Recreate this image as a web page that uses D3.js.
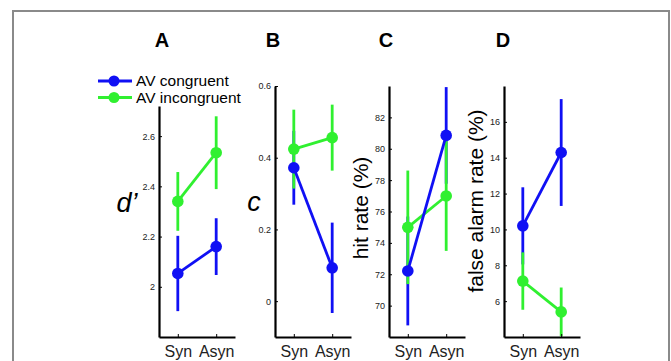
<!DOCTYPE html>
<html lang="en">
<head>
<meta charset="utf-8">
<title>AV congruence panels</title>
<script src="https://cdn.jsdelivr.net/npm/d3@7"></script>
<style>
  body { margin: 0; background: #fff; }
  svg { font-family: Arial, "Liberation Sans", Helvetica, sans-serif; }
  .tick text { fill: #222; }
</style>
</head>
<body>
<script>
// conditions on the x axis
var conditions = ["Syn", "Asyn"];
var seriesNames = ["AV congruent", "AV incongruent"];

// A: d'
var dCongMean = [2.053, 2.16],  dCongErr = [0.15, 0.113];
var dIncMean  = [2.34, 2.534],  dIncErr  = [0.117, 0.145];
// B: criterion c
var cCongMean = [0.372, 0.093], cCongErr = [0.103, 0.126];
var cIncMean  = [0.424, 0.456], cIncErr  = [0.11, 0.092];
// C: hit rate (%)
var hitCongMean = [72.21, 80.85], hitCongErr = [3.47, 3.08];
var hitIncMean  = [74.99, 76.99], hitIncErr  = [3.62, 3.5];
// D: false alarm rate (%)
var faCongMean = [10.2, 14.29], faCongErr = [2.15, 2.98];
var faIncMean  = [7.12, 5.4],   faIncErr  = [1.6, 1.36];

// tick labels
var dTicks = [2, 2.2, 2.4, 2.6];
var cTicks = [0, 0.2, 0.4, 0.6];
var hitTicks = [70, 72, 74, 76, 78, 80, 82];
var faTicks = [6, 8, 10, 12, 14, 16];

var blue = "#1010f4", green = "#30f030";
var w = 671, h = 361;

var svg = d3.select("body").append("svg").attr("width", w).attr("height", h);

// grey frame of the figure
svg.append("rect").attr("x", 13).attr("y", 11).attr("width", 656).attr("height", 400)
  .attr("fill", "none").attr("stroke", "#8a8a8a").attr("stroke-width", 2);

var panels = [
  {letter: "A", left: 159, top: 106, domain: [1.8, 2.72], ticks: dTicks, fmt: d3.format("~g"),
   cong: dCongMean, congErr: dCongErr, inc: dIncMean, incErr: dIncErr,
   label: "d\u2019", italic: true, lx: 127, ly: 212, titleX: 162},
  {letter: "B", left: 275, top: 86, domain: [-0.1, 0.6], ticks: cTicks, fmt: d3.format("~g"),
   cong: cCongMean, congErr: cCongErr, inc: cIncMean, incErr: cIncErr,
   label: "c", italic: true, lx: 254, ly: 211, titleX: 273},
  {letter: "C", left: 389, top: 86, domain: [68, 84], ticks: hitTicks, fmt: d3.format("d"),
   cong: hitCongMean, congErr: hitCongErr, inc: hitIncMean, incErr: hitIncErr,
   label: "hit rate (%)", italic: false, lx: 368, ly: 208, titleX: 386},
  {letter: "D", left: 504, top: 86, domain: [4, 18], ticks: faTicks, fmt: d3.format("d"),
   cong: faCongMean, congErr: faCongErr, inc: faIncMean, incErr: faIncErr,
   label: "false alarm rate (%)", italic: false, lx: 483, ly: 201, titleX: 503}
];

var bottom = 337, axisW = 76;

panels.forEach(function(p) {
  var g = svg.append("g").attr("transform", "translate(" + p.left + ",0)");

  var x = d3.scalePoint().domain(conditions).range([0, axisW]).padding(0.49);
  var y = d3.scaleLinear().domain(p.domain).range([bottom, p.top]);

  var series = [
    {color: blue, mean: p.cong, err: p.congErr},
    {color: green, mean: p.inc, err: p.incErr}
  ];

  // error bars first (blue, then green over it)
  series.forEach(function(s) {
    g.selectAll(null).data(conditions).enter().append("line")
      .attr("x1", function(d) { return x(d); })
      .attr("x2", function(d) { return x(d); })
      .attr("y1", function(d, i) { return y(Math.max(p.domain[0], s.mean[i] - s.err[i])); })
      .attr("y2", function(d, i) { return y(Math.min(p.domain[1], s.mean[i] + s.err[i])); })
      .attr("stroke", s.color).attr("stroke-width", 2.8);
  });

  // lines and markers: green first, blue on top
  [series[1], series[0]].forEach(function(s) {
    var line = d3.line()
      .x(function(d, i) { return x(conditions[i]); })
      .y(function(d) { return y(d); });
    g.append("path").datum(s.mean).attr("d", line)
      .attr("fill", "none").attr("stroke", s.color).attr("stroke-width", 2.8);
    g.selectAll(null).data(s.mean).enter().append("circle")
      .attr("cx", function(d, i) { return x(conditions[i]); })
      .attr("cy", function(d) { return y(d); })
      .attr("r", 5.8).attr("fill", s.color);
  });

  // y axis, ticks pointing inward
  var yAxis = d3.axisLeft(y).tickValues(p.ticks).tickFormat(p.fmt)
    .tickSizeInner(-3).tickSizeOuter(0).tickPadding(4);
  var ya = g.append("g").call(yAxis);
  ya.select(".domain").attr("stroke-width", 2.2);
  ya.selectAll(".tick line").attr("stroke-width", 1);
  ya.selectAll(".tick text").attr("font-size", 9);

  // x axis
  var xAxis = d3.axisBottom(x).tickSizeInner(-3).tickSizeOuter(0).tickPadding(8.5);
  var xa = g.append("g").attr("transform", "translate(0," + bottom + ")").call(xAxis);
  xa.select(".domain").attr("stroke-width", 2.2);
  xa.selectAll(".tick line").attr("stroke-width", 1);
  xa.selectAll(".tick text").attr("font-size", 16).attr("fill", "#111");

  // panel letter
  svg.append("text").attr("x", p.titleX).attr("y", 47)
    .attr("text-anchor", "middle").attr("font-size", 20).attr("font-weight", "bold")
    .text(p.letter);

  // y label
  if (p.italic) {
    svg.append("text").attr("x", p.lx).attr("y", p.ly)
      .attr("text-anchor", "middle").attr("font-size", 27).attr("font-style", "italic")
      .text(p.label);
  } else {
    svg.append("text")
      .attr("transform", "translate(" + p.lx + "," + p.ly + ") rotate(-90)")
      .attr("text-anchor", "middle").attr("font-size", 21)
      .text(p.label);
  }
});

// legend
var legend = svg.append("g");
[blue, green].forEach(function(c, i) {
  var ly = 81 + i * 16.5;
  legend.append("line").attr("x1", 98).attr("x2", 132).attr("y1", ly).attr("y2", ly)
    .attr("stroke", c).attr("stroke-width", 2.8);
  legend.append("circle").attr("cx", 114).attr("cy", ly).attr("r", 5.5).attr("fill", c);
  legend.append("text").attr("x", 136).attr("y", ly + 5.2).attr("font-size", 15.5)
    .text(seriesNames[i]);
});
</script>
</body>
</html>
